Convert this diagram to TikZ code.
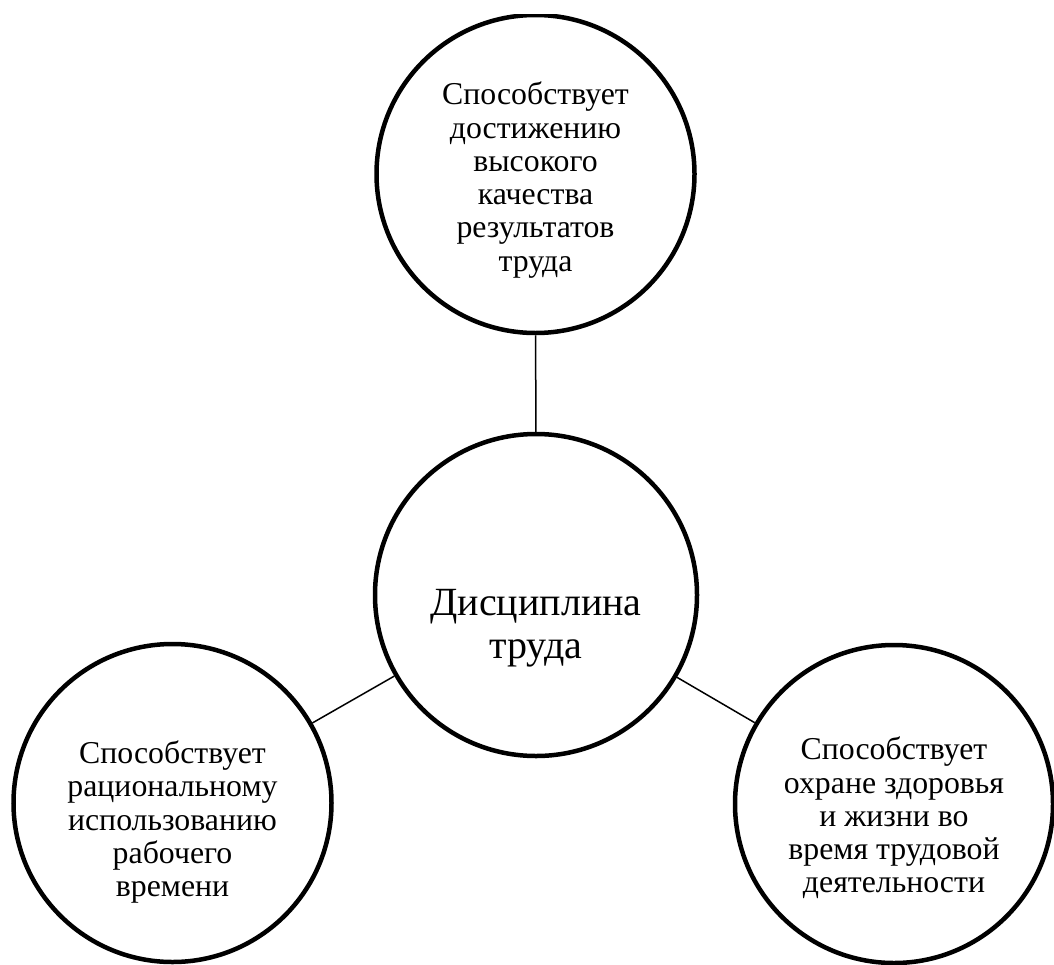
\documentclass[tikz,border=0pt]{standalone}
\usepackage{fontspec}
\setmainfont{Liberation Serif}
\usepackage{tikz}
\usetikzlibrary{positioning}
\definecolor{mydark}{RGB}{0,0,0}
\tikzset{
  idea/.style={circle, draw=mydark, line width=4.5pt,
    minimum size=318pt, inner sep=0pt},
  core/.style={circle, draw=mydark, line width=4.5pt,
    minimum size=322pt, inner sep=0pt},
  ideatext/.style={align=center, inner sep=0pt,
    font=\fontsize{31.8}{33.3}\selectfont},
  coretext/.style={align=center, inner sep=0pt,
    font=\fontsize{40}{43}\selectfont},
  line/.style={line width=1.5pt, color=mydark}
}

\begin{document}
\begin{tikzpicture}[x=1pt, y=-1pt]
  \useasboundingbox (0,0) rectangle (1054,964);
  \clip (0,14) rectangle (1054,964);

  % circles
  \node[idea] (top) at (535.5,174) {};
  \node[core] (core) at (536,595) {};
  \node[idea] (left) at (172.5,803) {};
  \node[idea] (right) at (894,804) {};

  % texts
  \node[ideatext] (topText) at (535.5,180)
    {Способствует\\достижению\\высокого\\качества\\результатов\\труда};
  \node[coretext] (coreText) at (536,628) {Дисциплина\\труда};
  \node[ideatext] (leftText) at (172.5,822)
    {Способствует\\рациональному\\использованию\\рабочего\\времени};
  \node[ideatext] (rightText) at (894,818)
    {Способствует\\охране здоровья\\и жизни во\\время трудовой\\деятельности};

  \draw[line] (core) -- (top);
  \draw[line] (core) -- (left);
  \draw[line] (core) -- (right);
\end{tikzpicture}
\end{document}
